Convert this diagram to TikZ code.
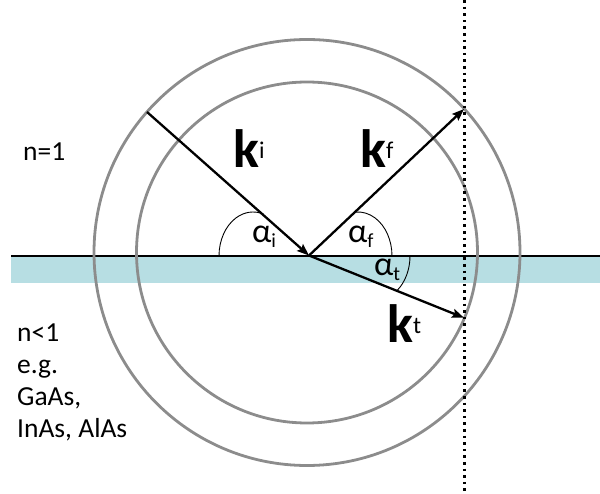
\documentclass[tikz,border=0pt]{standalone}
\usepackage{fontspec}
\setmainfont{Carlito}
\usetikzlibrary{arrows.meta}
\definecolor{layer}{RGB}{183,222,227}
\definecolor{ringgray}{RGB}{140,140,140}
\newcommand{\kvec}[1]{{\fontsize{54}{54}\selectfont\bfseries k}\raisebox{9pt}{\fontsize{24}{24}\selectfont #1}}
\newcommand{\angsym}[1]{{\fontsize{34}{34}\selectfont α}\raisebox{-5pt}{\fontsize{20}{20}\selectfont #1}}

\begin{document}
\begin{tikzpicture}[x=1pt, y=1pt,
    ring/.style={draw=ringgray, line width=2.8pt},
    ray/.style={draw, black, line width=2.3pt, -{Stealth[length=12pt, width=9pt, inset=2pt]}},
    anglearc/.style={draw, black, line width=0.9pt},
    surface/.style={draw, black, line width=1.1pt},
    screen/.style={draw, black, line width=3pt, dash pattern=on 2.6pt off 4pt},
    label/.style={inner sep=0pt, anchor=base west}]

    \useasboundingbox (0,0) rectangle (600,493);

    % --- Layer and surface ---
    \fill[layer] (11,210) rectangle (600,237);
    \coordinate (s_left) at (11,237);
    \coordinate (s_right) at (600,237);
    \draw[surface] (s_left) -- (s_right);

    % --- Circles ---
    \coordinate (C) at (307,240.5);
    \draw[ring] (C) circle[radius=213];
    \draw[ring] (C) circle[radius=170.5];

    % --- Dotted line ---
    \coordinate (d_top) at (464,493);
    \coordinate (d_bot) at (464,0);
    \draw[screen] (d_top) -- (d_bot);

    % --- Wave vectors ---
    \coordinate (O) at (309,237.5);
    \coordinate (k_in) at (147,381);
    \coordinate (k_ref) at (464,384);
    \coordinate (k_tra) at (464,175.2);
    \draw[ray] (k_in) -- (O);
    \draw[ray] (O) -- (k_ref);
    \draw[ray] (O) -- (k_tra);

    % --- Angles ---
    \coordinate (ai_c) at (253,237);
    \coordinate (af_c) at (358,237);
    \coordinate (at_c) at (376,237);
    \draw[anglearc] ([shift={(180:34 and 44)}]ai_c) arc[start angle=180, end angle=72, x radius=34, y radius=44];
    \draw[anglearc] ([shift={(0:34 and 44)}]af_c) arc[start angle=0, end angle=93, x radius=34, y radius=44];
    \draw[anglearc] ([shift={(0:34 and 44)}]at_c) arc[start angle=0, end angle=-52, x radius=34, y radius=44];

    % --- Labels ---
    \node[label] (alpha_i) at (252,250) {\angsym{i}};
    \node[label] (alpha_f) at (348,250) {\angsym{f}};
    \node[label] (alpha_t) at (374,217) {\angsym{t}};
    \node[label] (k_i) at (233,325) {\kvec{i}};
    \node[label] (k_f) at (360,325) {\kvec{f}};
    \node[label] (k_t) at (387,150) {\kvec{t}};
    \node[label, font=\fontsize{27.5}{27.5}\selectfont] (n_vac) at (23,332) {n=1};
    \node[label, font=\fontsize{27.5}{32}\selectfont, align=left] (n_med) at (17,56) {n<1\\e.g.\\GaAs,\\InAs, AlAs};

\end{tikzpicture}
\end{document}
